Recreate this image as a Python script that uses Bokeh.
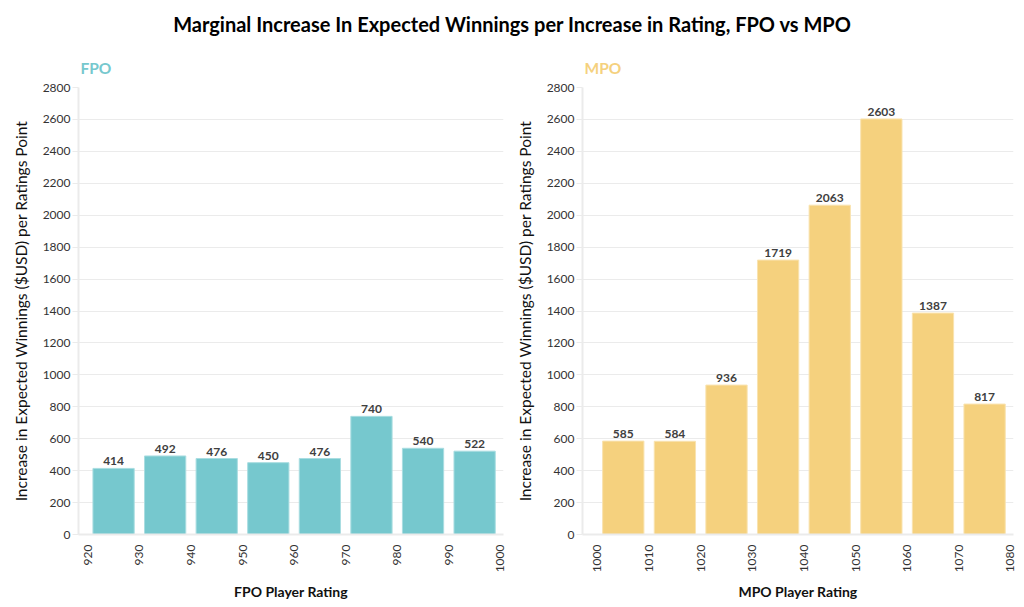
import math
from bokeh.plotting import figure
from bokeh.models import Div, Range1d, FixedTicker, ColumnDataSource
from bokeh.layouts import column, row
from bokeh.core.properties import value
from bokeh.embed import file_html
from bokeh.resources import INLINE

# ---- data ----
fpo_bins = [920, 930, 940, 950, 960, 970, 980, 990]
fpo_vals = [414, 492, 476, 450, 476, 740, 540, 522]
mpo_bins = [1000, 1010, 1020, 1030, 1040, 1050, 1060, 1070]
mpo_vals = [585, 584, 936, 1719, 2063, 2603, 1387, 817]
fpo_ticks = [920, 930, 940, 950, 960, 970, 980, 990, 1000]
mpo_ticks = [1000, 1010, 1020, 1030, 1040, 1050, 1060, 1070, 1080]
y_ticks = list(range(0, 2801, 200))

TITLE = "Marginal Increase In Expected Winnings per Increase in Rating, FPO vs MPO"
YLABEL = "Increase in Expected Winnings ($USD) per Ratings Point"
FONT = "Lato"
TEAL = "#76c8ce"
TEAL_EDGE = "#a9dde1"
GOLD = "#f5d17e"
GOLD_EDGE = "#f9e3b0"
GRID = "#ebebeb"


def make_panel(name, bins, vals, ticks, xr, color, edge, fw, bl, br, ylabel):
    p = figure(
        output_backend="svg", toolbar_location=None,
        frame_width=fw, frame_height=447,
        min_border_left=bl, min_border_right=br,
        min_border_top=42, min_border_bottom=66,
        x_range=Range1d(*xr), y_range=Range1d(0, 2800),
        title=name,
    )
    p.outline_line_color = None
    p.background_fill_color = "white"
    p.border_fill_color = "white"

    p.title.text_color = color
    p.title.text_font = FONT
    p.title.text_font_size = "15.5px"
    p.title.text_font_style = "bold"
    p.title.align = "left"
    p.title.offset = 2
    p.title.standoff = 22

    centers = [b + 5 for b in bins]
    src = ColumnDataSource(dict(x=centers, top=vals, lab=[str(v) for v in vals]))
    p.vbar(x="x", top="top", bottom=0, width=8, source=src,
           fill_color=color, line_color=edge, line_width=1)
    p.text(x="x", y="top", text="lab", source=src,
           text_align="center", text_baseline="bottom", y_offset=-3,
           text_font=value(FONT), text_font_size="12px",
           text_font_style="bold", text_color="#404040")

    # grids
    p.xgrid.grid_line_color = None
    p.ygrid.grid_line_color = GRID
    p.ygrid.grid_line_width = 1

    # y axis
    ya = p.yaxis[0]
    ya.ticker = FixedTicker(ticks=y_ticks)
    ya.axis_line_color = GRID
    ya.axis_line_width = 2
    ya.major_tick_line_color = GRID
    ya.major_tick_out = 6
    ya.major_tick_in = 0
    ya.minor_tick_line_color = None
    ya.major_label_standoff = 2
    ya.major_label_text_font = FONT
    ya.major_label_text_font_size = "12px"
    ya.major_label_text_color = "#333333"
    ya.axis_label = ylabel
    ya.axis_label_text_font = FONT
    ya.axis_label_text_font_size = "15.5px"
    ya.axis_label_text_font_style = "normal"
    ya.axis_label_text_color = "#111111"
    ya.axis_label_standoff = 10

    # x axis
    xa = p.xaxis[0]
    xa.ticker = FixedTicker(ticks=ticks)
    xa.axis_line_color = GRID
    xa.axis_line_width = 2
    xa.major_tick_line_color = None
    xa.minor_tick_line_color = None
    xa.major_label_orientation = math.pi / 2
    xa.major_label_standoff = 4
    xa.major_label_text_font = FONT
    xa.major_label_text_font_size = "12px"
    xa.major_label_text_color = "#333333"
    xa.axis_label = name + " Player Rating"
    xa.axis_label_text_font = FONT
    xa.axis_label_text_font_size = "14px"
    xa.axis_label_text_font_style = "bold"
    xa.axis_label_text_color = "#111111"
    xa.axis_label_standoff = 8
    return p


p1 = make_panel("FPO", fpo_bins, fpo_vals, fpo_ticks, (918.2, 1000.6),
                TEAL, TEAL_EDGE, 425, 78, 9, YLABEL)
p2 = make_panel("MPO", mpo_bins, mpo_vals, mpo_ticks, (997.1, 1080.6),
                GOLD, GOLD_EDGE, 431, 67, 14, YLABEL)

title = Div(
    text=f'<div style="width:1024px;text-align:center;font-family:Lato;'
         f'font-weight:bold;font-size:20px;color:#000;padding-top:10px">{TITLE}</div>',
    width=1024, height=45, margin=(0, 0, 0, 0),
)

layout = column(title, row(p1, p2, spacing=0), spacing=0)

with open("out.html", "w") as f:
    f.write(file_html(layout, INLINE))
